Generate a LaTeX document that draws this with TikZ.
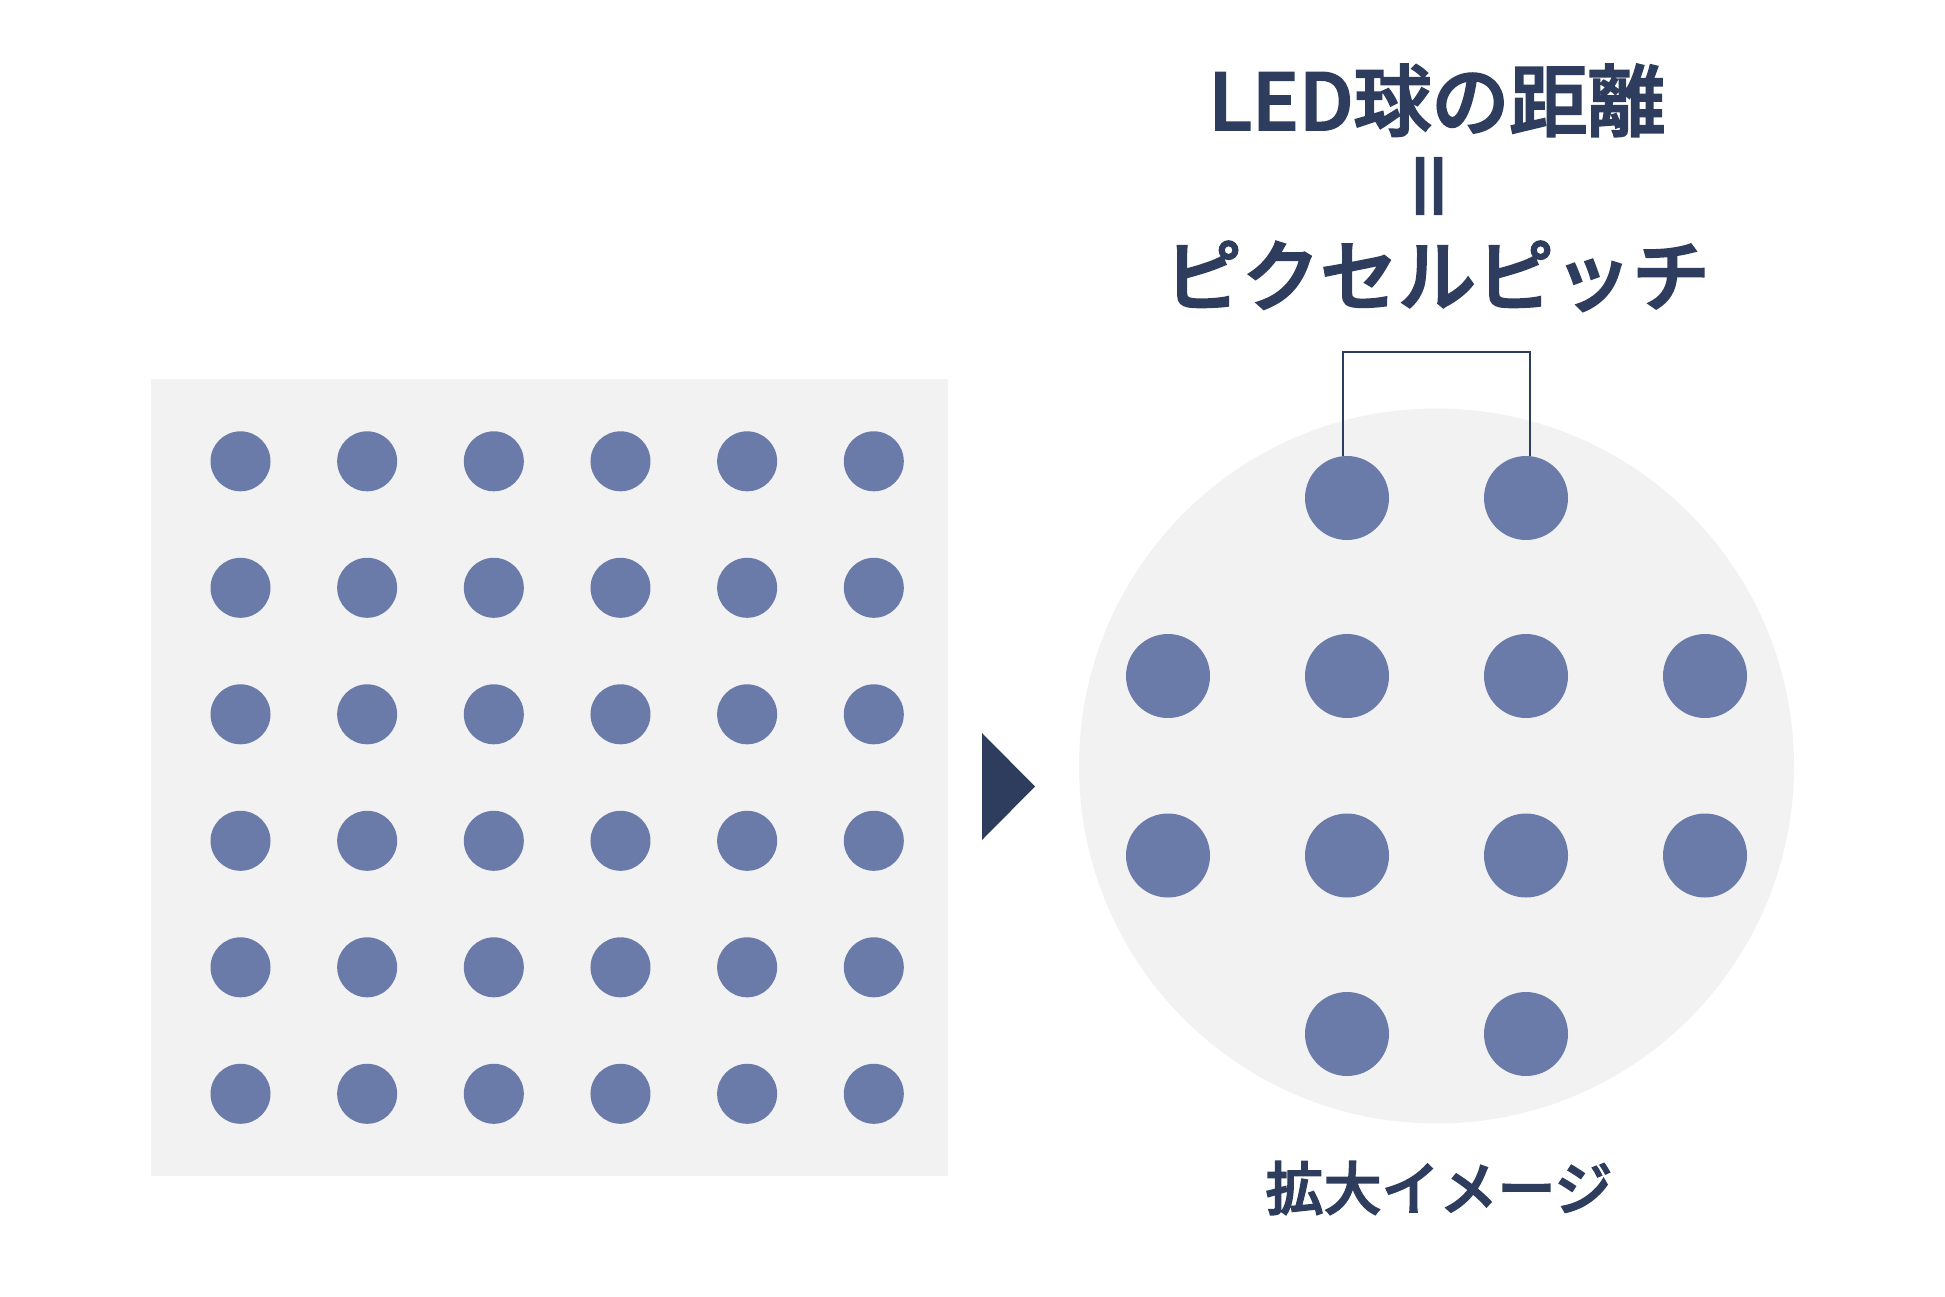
\documentclass[tikz,border=0pt]{standalone}
\usepackage{fontspec}
\newfontfamily\cjk{Noto Sans CJK JP}[UprightFont=* Medium, FakeBold=2.5]
\definecolor{navy}{HTML}{2E3D5E}
\definecolor{dotc}{HTML}{6A7BA9}
\definecolor{bgc}{HTML}{F2F2F2}
\tikzset{
  smalldot/.style={circle, fill=dotc, inner sep=0pt, minimum size=60pt},
  bigdot/.style={circle, fill=dotc, inner sep=0pt, minimum size=84pt},
  titletext/.style={font=\cjk\fontsize{78}{94}\selectfont, text=navy, inner sep=0pt},
  captext/.style={font=\cjk\fontsize{58}{70}\selectfont, text=navy, inner sep=0pt},
  bracket/.style={draw=navy, line width=2pt}
}
\begin{document}
\begin{tikzpicture}[x=1pt,y=-1pt]
\useasboundingbox (0,0) rectangle (1945,1297);
% left panel
\node[fill=bgc, inner sep=0pt, minimum width=797pt, minimum height=797pt, anchor=north west] (panel) at (151,379) {};
\foreach \i in {0,...,5}{
  \foreach \j in {0,...,5}{
    \node[smalldot] (s\i\j) at ({240.5+126.66*\i},{461.3+126.5*\j}) {};
  }
}
% arrow triangle
\fill[navy] (982,733) -- (1035,786.5) -- (982,840) -- cycle;
% magnified circle
\node[circle, fill=bgc, inner sep=0pt, minimum size=715pt] (mag) at (1436.5,766) {};
\node[bigdot] (p1) at (1347,498) {};
\node[bigdot] (p2) at (1526,498) {};
\node[bigdot] (q0) at (1168,676) {};
\node[bigdot] (q1) at (1347,676) {};
\node[bigdot] (q2) at (1526,676) {};
\node[bigdot] (q3) at (1705,676) {};
\node[bigdot] (r0) at (1168,855.5) {};
\node[bigdot] (r1) at (1347,855.5) {};
\node[bigdot] (r2) at (1526,855.5) {};
\node[bigdot] (r3) at (1705,855.5) {};
\node[bigdot] (u1) at (1347,1034) {};
\node[bigdot] (u2) at (1526,1034) {};
% bracket
\draw[bracket] ([xshift=-4pt]p1.north) -- ++(0,-104) -| ([xshift=3.5pt]p2.north);
% texts
\node[titletext, anchor=base] (t1) at (1437,130) {LED球の距離};
\node[titletext, rotate=90] (eq) at (1438,186) {＝};
\node[titletext, anchor=base] (t2) at (1437,305) {ピクセルピッチ};
\node[captext, anchor=base] (cap) at (1439,1210) {拡大イメージ};
\end{tikzpicture}
\end{document}
